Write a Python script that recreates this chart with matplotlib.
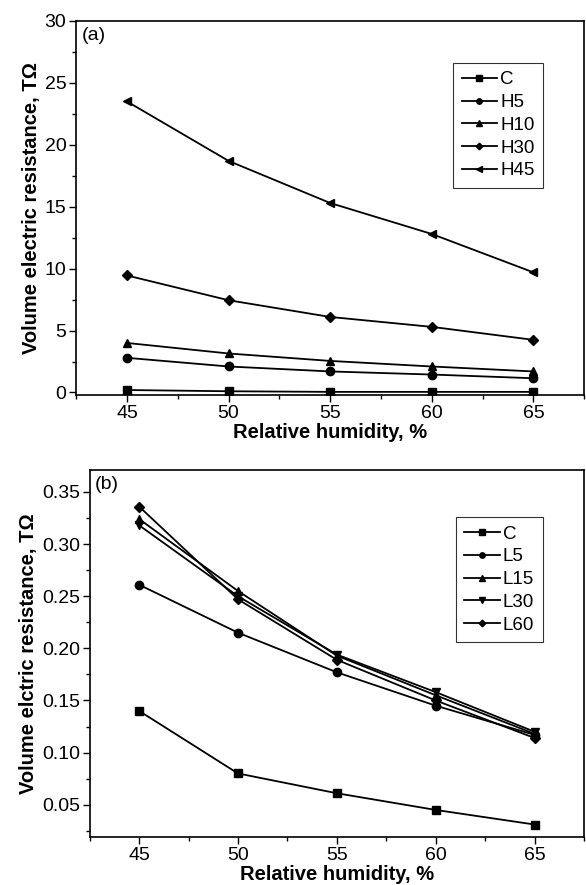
import numpy as np
import matplotlib
matplotlib.use('Agg')
import matplotlib.pyplot as plt
from matplotlib.ticker import MultipleLocator

plt.rcParams['font.family'] = ['Liberation Sans', 'DejaVu Sans']
plt.rcParams['font.size'] = 14

# relative humidity, %
humidity = [45, 50, 55, 60, 65]

# panel (a) series, TOhm
a_labels = ['C', 'H5', 'H10', 'H30', 'H45']
a_C = [0.2, 0.1, 0.05, 0.05, 0.05]
a_H5 = [2.8, 2.1, 1.7, 1.45, 1.15]
a_H10 = [4.0, 3.15, 2.55, 2.1, 1.7]
a_H30 = [9.45, 7.45, 6.1, 5.3, 4.25]
a_H45 = [23.5, 18.7, 15.3, 12.8, 9.7]

# panel (b) series, TOhm
b_labels = ['C', 'L5', 'L15', 'L30', 'L60']
b_C = [0.140, 0.080, 0.061, 0.045, 0.031]
b_L5 = [0.261, 0.215, 0.177, 0.145, 0.117]
b_L15 = [0.324, 0.255, 0.193, 0.155, 0.118]
b_L30 = [0.318, 0.250, 0.194, 0.158, 0.120]
b_L60 = [0.336, 0.247, 0.189, 0.150, 0.114]

a_markers = ['s', 'o', '^', 'D', '<']
b_markers = ['s', 'o', '^', 'v', 'D']


def style_axes(ax):
    for s in ax.spines.values():
        s.set_linewidth(1.2)
    ax.tick_params(which='both', direction='out', width=1.0)
    ax.tick_params(which='major', length=5, labelsize=14, pad=2)
    ax.tick_params(which='minor', length=3)
    ax.xaxis.set_major_locator(MultipleLocator(5))
    ax.xaxis.set_minor_locator(MultipleLocator(2.5))
    ax.set_xlim(42.5, 67.5)
    ax.set_xlabel('Relative humidity, %', fontweight='bold', fontsize=14.5, labelpad=1)


def add_legend(ax, anchor):
    leg = ax.legend(loc='upper left', bbox_to_anchor=anchor, frameon=True, fancybox=False,
                    edgecolor='black', handlelength=1.9, handletextpad=0.15, labelspacing=0.3,
                    borderpad=0.45, borderaxespad=0, markerscale=0.65, fontsize=13.5)
    leg.get_frame().set_linewidth(0.8)
    return leg


fig = plt.figure(figsize=(5.86, 8.85), dpi=100)

# panel (a)
ax1 = fig.add_axes([0.130, 0.5537, 0.867, 0.4226])
for vals, lab, m in zip([a_C, a_H5, a_H10, a_H30, a_H45], a_labels, a_markers):
    ms = 5.2 if m == 'D' else 6
    ax1.plot(humidity, vals, color='black', lw=1.3, marker=m, ms=ms, label=lab)
style_axes(ax1)
ax1.set_ylim(-0.2, 30)
ax1.yaxis.set_major_locator(MultipleLocator(5))
ax1.yaxis.set_minor_locator(MultipleLocator(2.5))
ax1.set_ylabel('Volume electric resistance, T\u03a9', fontweight='bold', fontsize=14.5, labelpad=3)
ax1.text(0.01, 0.985, '(a)', transform=ax1.transAxes, ha='left', va='top', fontsize=14)
add_legend(ax1, (0.742, 0.888))

# panel (b)
ax2 = fig.add_axes([0.153, 0.0542, 0.8435, 0.4147])
for vals, lab, m in zip([b_C, b_L5, b_L15, b_L30, b_L60], b_labels, b_markers):
    ms = 5.2 if m == 'D' else 6
    ax2.plot(humidity, vals, color='black', lw=1.3, marker=m, ms=ms, label=lab)
style_axes(ax2)
ax2.set_ylim(0.019, 0.371)
ax2.yaxis.set_major_locator(MultipleLocator(0.05))
ax2.yaxis.set_minor_locator(MultipleLocator(0.025))
ax2.yaxis.set_major_formatter(plt.FormatStrFormatter('%.2f'))
ax2.set_ylabel('Volume elctric resistance, T\u03a9', fontweight='bold', fontsize=14.5, labelpad=3)
ax2.text(0.01, 0.985, '(b)', transform=ax2.transAxes, ha='left', va='top', fontsize=14)
add_legend(ax2, (0.741, 0.872))

plt.savefig('out.png', dpi=100, facecolor='white')
plt.close()
